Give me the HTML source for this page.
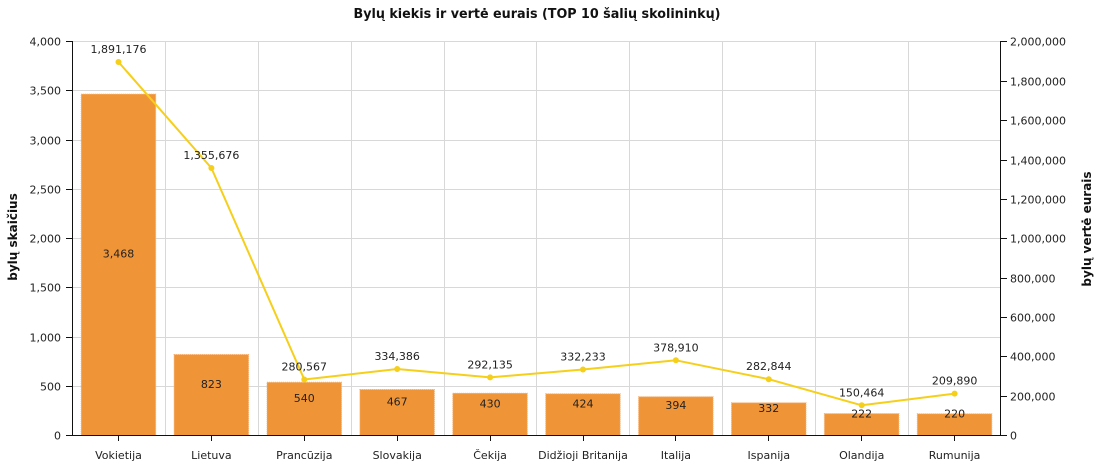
<!DOCTYPE html>
<html><head><meta charset="utf-8"><style>
html,body{margin:0;padding:0;background:#fff;}
svg{display:block;font-family:"DejaVu Sans","Liberation Sans",sans-serif;}
</style></head><body>
<svg width="1103" height="469" viewBox="0 0 1103 469" xmlns="http://www.w3.org/2000/svg">
<rect width="1103" height="469" fill="#fff"/>
<text x="537" y="18" text-anchor="middle" font-size="13" font-weight="bold" fill="#111" textLength="367" lengthAdjust="spacingAndGlyphs">Bylų kiekis ir vertė eurais (TOP 10 šalių skolininkų)</text>
<g stroke="#d8d8d8" stroke-width="1" shape-rendering="crispEdges">
<line x1="72" y1="41.5" x2="1001" y2="41.5"/>
<line x1="72" y1="90.5" x2="1001" y2="90.5"/>
<line x1="72" y1="140.5" x2="1001" y2="140.5"/>
<line x1="72" y1="189.5" x2="1001" y2="189.5"/>
<line x1="72" y1="238.5" x2="1001" y2="238.5"/>
<line x1="72" y1="287.5" x2="1001" y2="287.5"/>
<line x1="72" y1="337.5" x2="1001" y2="337.5"/>
<line x1="72" y1="386.5" x2="1001" y2="386.5"/>
<line x1="165.5" y1="41" x2="165.5" y2="435"/>
<line x1="258.5" y1="41" x2="258.5" y2="435"/>
<line x1="351.5" y1="41" x2="351.5" y2="435"/>
<line x1="444.5" y1="41" x2="444.5" y2="435"/>
<line x1="536.5" y1="41" x2="536.5" y2="435"/>
<line x1="629.5" y1="41" x2="629.5" y2="435"/>
<line x1="722.5" y1="41" x2="722.5" y2="435"/>
<line x1="815.5" y1="41" x2="815.5" y2="435"/>
<line x1="908.5" y1="41" x2="908.5" y2="435"/>
</g>
<g fill="#F09537" stroke="#F5B070" stroke-width="1" stroke-dasharray="1,1">
<rect x="81.2" y="94.1" width="74.5" height="341.4"/>
<rect x="174.1" y="354.5" width="74.5" height="81"/>
<rect x="267" y="382.3" width="74.5" height="53.2"/>
<rect x="359.9" y="389.5" width="74.5" height="46"/>
<rect x="452.8" y="393.2" width="74.5" height="42.3"/>
<rect x="545.7" y="393.8" width="74.5" height="41.7"/>
<rect x="638.6" y="396.7" width="74.5" height="38.8"/>
<rect x="731.5" y="402.8" width="74.5" height="32.7"/>
<rect x="824.4" y="413.6" width="74.5" height="21.9"/>
<rect x="917.3" y="413.8" width="74.5" height="21.7"/>
</g>
<g font-size="11" fill="#222" text-anchor="middle">
<text x="118.5" y="257.5">3,468</text>
<text x="211.4" y="388">823</text>
<text x="304.3" y="402">540</text>
<text x="397.2" y="405.5">467</text>
<text x="490.1" y="407.3">430</text>
<text x="583" y="407.7">424</text>
<text x="675.9" y="409.1">394</text>
<text x="768.8" y="412.2">332</text>
<text x="861.7" y="417.6">222</text>
<text x="954.6" y="417.7">220</text>
</g>
<polyline fill="none" stroke="#F5CF1A" stroke-width="2" stroke-linejoin="round" points="118.5,62 211.4,168 304.3,379.5 397.2,369 490.1,377.4 583,369.5 675.9,360.3 768.8,379.2 861.7,405.3 954.6,393.6"/>
<g fill="#F5CF1A">
<circle cx="118.5" cy="62" r="3"/>
<circle cx="211.4" cy="168" r="3"/>
<circle cx="304.3" cy="379.5" r="3"/>
<circle cx="397.2" cy="369" r="3"/>
<circle cx="490.1" cy="377.4" r="3"/>
<circle cx="583" cy="369.5" r="3"/>
<circle cx="675.9" cy="360.3" r="3"/>
<circle cx="768.8" cy="379.2" r="3"/>
<circle cx="861.7" cy="405.3" r="3"/>
<circle cx="954.6" cy="393.6" r="3"/>
</g>
<g font-size="11" fill="#222" text-anchor="middle">
<text x="118.5" y="53">1,891,176</text>
<text x="211.4" y="159">1,355,676</text>
<text x="304.3" y="370.5">280,567</text>
<text x="397.2" y="360">334,386</text>
<text x="490.1" y="368.4">292,135</text>
<text x="583" y="360.5">332,233</text>
<text x="675.9" y="351.3">378,910</text>
<text x="768.8" y="370.2">282,844</text>
<text x="861.7" y="396.3">150,464</text>
<text x="954.6" y="384.6">209,890</text>
</g>
<g stroke="#111" stroke-width="1" shape-rendering="crispEdges">
<line x1="72.5" y1="41" x2="72.5" y2="436"/>
<line x1="1000.5" y1="41" x2="1000.5" y2="436"/>
<line x1="66" y1="435.5" x2="1001" y2="435.5"/>
<line x1="66" y1="386.5" x2="72" y2="386.5"/>
<line x1="66" y1="337.5" x2="72" y2="337.5"/>
<line x1="66" y1="287.5" x2="72" y2="287.5"/>
<line x1="66" y1="238.5" x2="72" y2="238.5"/>
<line x1="66" y1="189.5" x2="72" y2="189.5"/>
<line x1="66" y1="140.5" x2="72" y2="140.5"/>
<line x1="66" y1="90.5" x2="72" y2="90.5"/>
<line x1="66" y1="41.5" x2="72" y2="41.5"/>
<line x1="1001" y1="435.5" x2="1007" y2="435.5"/>
<line x1="1001" y1="396.5" x2="1007" y2="396.5"/>
<line x1="1001" y1="356.5" x2="1007" y2="356.5"/>
<line x1="1001" y1="317.5" x2="1007" y2="317.5"/>
<line x1="1001" y1="278.5" x2="1007" y2="278.5"/>
<line x1="1001" y1="238.5" x2="1007" y2="238.5"/>
<line x1="1001" y1="199.5" x2="1007" y2="199.5"/>
<line x1="1001" y1="160.5" x2="1007" y2="160.5"/>
<line x1="1001" y1="120.5" x2="1007" y2="120.5"/>
<line x1="1001" y1="81.5" x2="1007" y2="81.5"/>
<line x1="1001" y1="41.5" x2="1007" y2="41.5"/>
<line x1="118.5" y1="436" x2="118.5" y2="441"/>
<line x1="211.5" y1="436" x2="211.5" y2="441"/>
<line x1="304.5" y1="436" x2="304.5" y2="441"/>
<line x1="397.5" y1="436" x2="397.5" y2="441"/>
<line x1="490.5" y1="436" x2="490.5" y2="441"/>
<line x1="583.5" y1="436" x2="583.5" y2="441"/>
<line x1="675.5" y1="436" x2="675.5" y2="441"/>
<line x1="768.5" y1="436" x2="768.5" y2="441"/>
<line x1="861.5" y1="436" x2="861.5" y2="441"/>
<line x1="954.5" y1="436" x2="954.5" y2="441"/>
</g>
<g font-size="11" fill="#222" text-anchor="end">
<text x="61" y="439.5">0</text>
<text x="61" y="390.5">500</text>
<text x="61" y="341.5">1,000</text>
<text x="61" y="291.5">1,500</text>
<text x="61" y="242.5">2,000</text>
<text x="61" y="193.5">2,500</text>
<text x="61" y="144.5">3,000</text>
<text x="61" y="94.5">3,500</text>
<text x="61" y="45.5">4,000</text>
</g>
<g font-size="11" fill="#222" text-anchor="start">
<text x="1010" y="439.5">0</text>
<text x="1010" y="400.5">200,000</text>
<text x="1010" y="360.5">400,000</text>
<text x="1010" y="321.5">600,000</text>
<text x="1010" y="282.5">800,000</text>
<text x="1010" y="242.5">1,000,000</text>
<text x="1010" y="203.5">1,200,000</text>
<text x="1010" y="164.5">1,400,000</text>
<text x="1010" y="124.5">1,600,000</text>
<text x="1010" y="85.5">1,800,000</text>
<text x="1010" y="45.5">2,000,000</text>
</g>
<g font-size="11" fill="#222" text-anchor="middle">
<text x="118.5" y="459">Vokietija</text>
<text x="211.4" y="459">Lietuva</text>
<text x="304.3" y="459">Prancūzija</text>
<text x="397.2" y="459">Slovakija</text>
<text x="490.1" y="459">Čekija</text>
<text x="583" y="459">Didžioji Britanija</text>
<text x="675.9" y="459">Italija</text>
<text x="768.8" y="459">Ispanija</text>
<text x="861.7" y="459">Olandija</text>
<text x="954.6" y="459">Rumunija</text>
</g>
<text transform="translate(17,237) rotate(-90)" text-anchor="middle" font-size="12" font-weight="bold" fill="#111">bylų skaičius</text>
<text transform="translate(1091,229) rotate(-90)" text-anchor="middle" font-size="12" font-weight="bold" fill="#111">bylų vertė eurais</text>
</svg>
</body></html>
